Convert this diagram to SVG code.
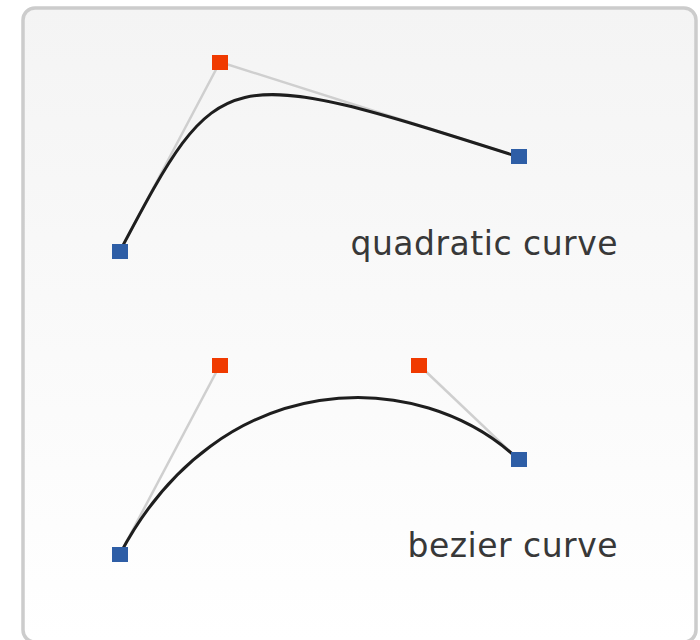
<svg xmlns="http://www.w3.org/2000/svg" width="700" height="640" viewBox="0 0 700 640">
  <defs>
    <linearGradient id="bg" x1="0" y1="0" x2="0" y2="1">
      <stop offset="0" stop-color="#f4f4f4"/>
      <stop offset="1" stop-color="#ffffff"/>
    </linearGradient>
    <style>
      .guide { fill: none; stroke: #cfcfcf; stroke-width: 2.5; }
      .curve { fill: none; stroke: #1e1e1e; stroke-width: 3; }
      .end { fill: #2e5ea6; }
      .ctrl { fill: #f03a00; }
      .label { font-family: "DejaVu Sans", "Liberation Sans", sans-serif; font-size: 33px; letter-spacing: 0.5px; fill: #383838; text-anchor: end; }
    </style>
  </defs>
  <rect x="23" y="8" width="673" height="634" rx="12" fill="url(#bg)" stroke="#cccccc" stroke-width="3.5"/>
  <g id="connectors">
    <polyline class="guide" points="120,251 220,62 519,157"/>
    <path class="curve" d="M120,251 C220,62 220,62 519,157"/>
    <polyline class="guide" points="120,554 220,365"/>
    <polyline class="guide" points="419,365 519,460"/>
    <path class="curve" d="M120,554 C220,365 419,365 519,460"/>
  </g>
  <g id="quad-start"><rect class="end" x="112" y="244" width="16" height="15"/></g>
  <g id="quad-ctrl"><rect class="ctrl" x="212" y="55" width="16" height="15"/></g>
  <g id="quad-end"><rect class="end" x="511" y="149" width="16" height="15"/></g>
  <g id="quad-label"><text class="label" x="618" y="255">quadratic curve</text></g>
  <g id="bez-start"><rect class="end" x="112" y="547" width="16" height="15"/></g>
  <g id="bez-ctrl1"><rect class="ctrl" x="212" y="358" width="16" height="15"/></g>
  <g id="bez-ctrl2"><rect class="ctrl" x="411" y="358" width="16" height="15"/></g>
  <g id="bez-end"><rect class="end" x="511" y="452" width="16" height="15"/></g>
  <g id="bez-label"><text class="label" x="618" y="557">bezier curve</text></g>
</svg>
